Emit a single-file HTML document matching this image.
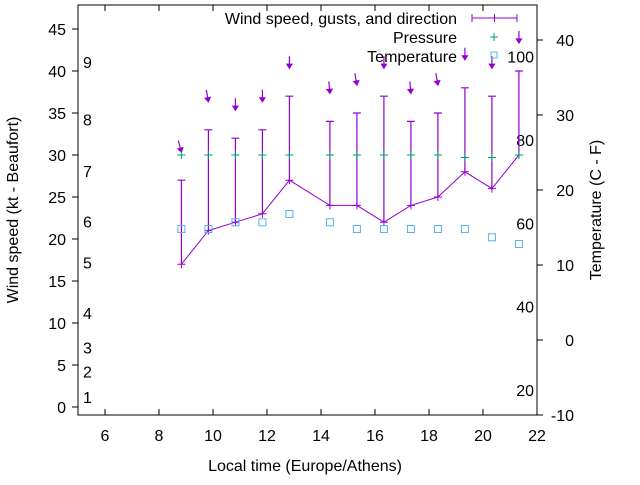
<!DOCTYPE html>
<html><head><meta charset="utf-8"><style>
body{margin:0;background:#fff}
svg text{font-family:"Liberation Sans",sans-serif;font-size:16px;fill:#000}
</style></head><body>
<svg id="chart" width="640" height="480" xmlns="http://www.w3.org/2000/svg">
<rect width="640" height="480" fill="#fff"/>
<g id="axes"></g>
<g id="marks"></g>
<text x="14" y="210" transform="rotate(-90 14 210)" text-anchor="middle" dominant-baseline="middle">Wind speed (kt - Beaufort)</text>
<text x="597" y="210" transform="rotate(-90 597 210)" text-anchor="middle" dominant-baseline="middle">Temperature (C - F)</text>
<text x="305" y="471" text-anchor="middle">Local time (Europe/Athens)</text>
<g>
<text x="457" y="24" text-anchor="end">Wind speed, gusts, and direction</text>
<path d="M472 18H517M472 14V22M494.5 14V22M517 14V22" stroke="#9400d3" fill="none"/>
<text x="457" y="43" text-anchor="end">Pressure</text>
<path d="M490 37H498M494 33V41" stroke="#009e73"/>
<text x="457" y="62" text-anchor="end">Temperature</text>
<rect x="491" y="52" width="6" height="6" fill="none" stroke="#56b4e9"/>
</g>
</svg>
<script>
const times=[8.83,9.83,10.83,11.83,12.83,14.33,15.33,16.33,17.33,18.33,19.33,20.33,21.33];
const windSpeed=[17,21,22,23,27,24,24,22,24,25,28,26,30];
const gusts=[27,33,32,33,37,34,35,37,34,35,38,37,40];
const windDir=[345,350,0,0,0,355,350,0,355,350,0,0,0];
const pressure=[30,30,30,30,30,30,30,30,30,30,29.7,29.7,30];
const temperature=[14.8,14.8,15.7,15.7,16.8,15.7,14.8,14.8,14.8,14.8,14.8,13.7,12.8];
const xTicks=[6,8,10,12,14,16,18,20,22];
const yTicks=[0,5,10,15,20,25,30,35,40,45];
const y2Ticks=[-10,0,10,20,30,40];
const beaufortLabels=["1","2","3","4","5","6","7","8","9"];
const beaufortKt=[1.2,4.2,7.1,11.2,17.2,22.1,28.1,34.2,41.1];
const fahrLabels=["20","40","60","80","100"];
const fahrC=[-6.67,4.44,15.56,26.67,37.78];

const L=78,R=537,T=5,B=415;
const X=t=>L+(t-5)*(R-L)/17;
const Y=v=>407-v*8.4;
const Y2=c=>415-(c+10)*7.5;
const NS="http://www.w3.org/2000/svg";
function mk(tag,attrs,parent,txt){const e=document.createElementNS(NS,tag);for(const k in attrs)e.setAttribute(k,attrs[k]);if(txt!==undefined)e.textContent=txt;parent.appendChild(e);return e;}
const ax=document.getElementById('axes'),mg=document.getElementById('marks');
let frame=mk('rect',{x:L,y:T,width:R-L,height:B-T,fill:'none',stroke:'#000'},ax);


xTicks.forEach(t=>{const x=X(t);
 let tk=mk('path',{d:`M${x} ${B}v-6M${x} ${T}v6`,stroke:'#000'},ax);
 
 
 let lb=mk('text',{x:x,y:B+26,'text-anchor':'middle'},ax,String(t));
 
 });
yTicks.forEach(v=>{const y=Y(v);
 let tk=mk('path',{d:`M${L} ${y}h-6`,stroke:'#000'},ax);
 
 
 let lb=mk('text',{x:L-12,y:y+6,'text-anchor':'end'},ax,String(v));
 
 });
y2Ticks.forEach(v=>{const y=Y2(v);
 let tk=mk('path',{d:`M${R} ${y}h6`,stroke:'#000'},ax);
 
 
 let lb=mk('text',{x:574,y:y+6,'text-anchor':'end'},ax,String(v));
 
 });
beaufortLabels.forEach((s,i)=>{
 let lb=mk('text',{x:83,y:Y(beaufortKt[i])+6},ax,s);
 
 });
fahrLabels.forEach((s,i)=>{
 let lb=mk('text',{x:534,y:Y2(fahrC[i])+6,'text-anchor':'end'},ax,s);
 
 });
times.forEach((t,i)=>{const x=X(t);
 let b=mk('path',{d:`M${x} ${Y(windSpeed[i])}V${Y(gusts[i])}M${x-4} ${Y(gusts[i])}h8`,stroke:'#9400d3','stroke-width':1.2,fill:'none'},mg);
 
 });
let ln=mk('polyline',{points:times.map((t,i)=>X(t)+','+Y(windSpeed[i])).join(' '),fill:'none',stroke:'#9400d3'},mg);


times.forEach((t,i)=>{const x=X(t),y=Y(windSpeed[i]);
 let p=mk('path',{d:`M${x-4} ${y}h8M${x} ${y-4}v8`,stroke:'#9400d3'},mg);
 
 });
times.forEach((t,i)=>{const x=X(t),hy=Y(gusts[i])-28;const a=windDir[i]*Math.PI/180;
 const dx=-Math.sin(a),dy=Math.cos(a);const tx=x-dx*12,ty=hy-dy*12;
 const px=-dy,py=dx;
 let g=mk('path',{d:`M${tx} ${ty}L${x} ${hy}M${x-dx*4+px*2.5} ${hy-dy*4+py*2.5}L${x} ${hy}L${x-dx*4-px*2.5} ${hy-dy*4-py*2.5}Z`,stroke:'#9400d3','stroke-width':1.2,fill:'#9400d3'},mg);
 
 });
times.forEach((t,i)=>{const x=X(t),y=Y(pressure[i]);
 let p=mk('path',{d:`M${x-4} ${y}h8M${x} ${y-4}v8`,stroke:'#009e73'},mg);
 
 });
times.forEach((t,i)=>{const x=X(t),y=Y2(temperature[i]);
 let p=mk('rect',{x:x-3.5,y:y-3.5,width:7,height:7,fill:'none',stroke:'#56b4e9'},mg);
 
 });
</script>
</body></html>
